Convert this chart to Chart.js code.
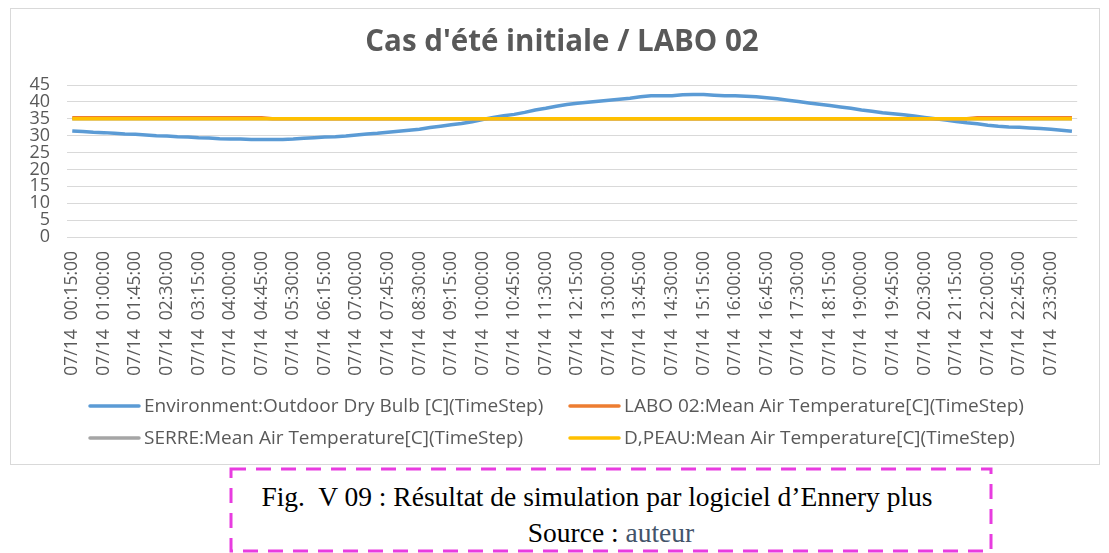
<!DOCTYPE html>
<html>
<head>
<meta charset="utf-8">
<script src="https://cdn.jsdelivr.net/npm/chart.js@4/dist/chart.umd.min.js"></script>
<style>
  html, body { margin: 0; padding: 0; background: #ffffff; }
  body { width: 1109px; height: 553px; position: relative; overflow: hidden; }
  #box {
    position: absolute; left: 10px; top: 8px; width: 1090px; height: 457px;
    border: 1px solid #d9d9d9; box-sizing: border-box; background: #fff;
  }
  #box canvas { position: absolute; left: 0; top: 0; }
  #frame { position: absolute; left: 229px; top: 467px; }
  #caption {
    position: absolute; left: 231px; top: 470px; width: 760px;
    font-family: "Liberation Serif", "Times New Roman", serif; font-size: 27.5px;
    color: #000; text-align: center; line-height: 36px; padding-top: 9px;
  }
  #caption .fig { position: relative; left: -14px; }
  #caption .src { color: #44546a; }
</style>
</head>
<body>
<div id="box"><canvas id="chart" width="1088" height="455"></canvas></div>
<svg id="frame" width="766" height="86">
  <rect x="2" y="2" width="760" height="82" fill="none" stroke="#e83ce0"
        stroke-width="3" stroke-dasharray="15 10"/>
</svg>
<div id="caption">
  <div class="fig">Fig.&nbsp; V 09 : Résultat de simulation par logiciel d’Ennery plus</div>
  <div>Source : <span class="src">auteur</span></div>
</div>
<script>
// Time steps of 15 minutes for 14 July: 00:15 ... 24:00
const timeSteps = [];
for (let m = 15; m <= 24 * 60; m += 15) {
  const h = String(Math.floor(m / 60)).padStart(2, '0');
  const mm = String(m % 60).padStart(2, '0');
  timeSteps.push('07/14  ' + h + ':' + mm + ':00');
}

const yTicks = [0, 5, 10, 15, 20, 25, 30, 35, 40, 45];

const chartTitle = "Cas d'été initiale / LABO 02";

const seriesNames = [
  'Environment:Outdoor Dry Bulb [C](TimeStep)',
  'LABO 02:Mean Air Temperature[C](TimeStep)',
  'SERRE:Mean Air Temperature[C](TimeStep)',
  'D,PEAU:Mean Air Temperature[C](TimeStep)'
];

const outdoorDryBulb = [
  31.4, 31.2, 31.0, 30.9, 30.7, 30.5, 30.4, 30.2, 30.0, 29.9, 29.7, 29.6,
  29.4, 29.3, 29.1, 29.0, 29.0, 28.9, 28.9, 28.9, 28.9, 29.0, 29.2, 29.4,
  29.6, 29.7, 29.9, 30.2, 30.5, 30.7, 31.0, 31.3, 31.6, 31.9, 32.4, 32.8,
  33.2, 33.6, 34.1, 34.8, 35.4, 35.9, 36.3, 36.9, 37.6, 38.1, 38.7, 39.2,
  39.6, 39.9, 40.2, 40.5, 40.8, 41.1, 41.5, 41.8, 41.8, 41.8, 42.1, 42.2,
  42.2, 42.0, 41.8, 41.8, 41.7, 41.5, 41.2, 40.9, 40.5, 40.1, 39.7, 39.3,
  38.9, 38.5, 38.1, 37.6, 37.2, 36.8, 36.5, 36.2, 35.8, 35.4, 35.0, 34.6,
  34.2, 33.8, 33.5, 33.1, 32.8, 32.6, 32.5, 32.3, 32.1, 31.9, 31.6, 31.3
];

const labo02 = [
  35.3, 35.3, 35.3, 35.3, 35.3, 35.3, 35.3, 35.3, 35.3, 35.3, 35.3, 35.3,
  35.3, 35.3, 35.3, 35.3, 35.3, 35.3, 35.3, 35.0, 35.0, 35.0, 35.0, 35.0,
  35.0, 35.0, 35.0, 35.0, 35.0, 35.0, 35.0, 35.0, 35.0, 35.0, 35.0, 35.0,
  35.0, 35.0, 35.0, 35.0, 35.0, 35.0, 35.0, 35.0, 35.0, 35.0, 35.0, 35.0,
  35.0, 35.0, 35.0, 35.0, 35.0, 35.0, 35.0, 35.0, 35.0, 35.0, 35.0, 35.0,
  35.0, 35.0, 35.0, 35.0, 35.0, 35.0, 35.0, 35.0, 35.0, 35.0, 35.0, 35.0,
  35.0, 35.0, 35.0, 35.0, 35.0, 35.0, 35.0, 35.0, 35.0, 35.0, 35.0, 35.0,
  35.0, 35.0, 35.3, 35.3, 35.3, 35.3, 35.3, 35.3, 35.3, 35.3, 35.3, 35.3
];

const serre = [
  35.0, 35.0, 35.0, 35.0, 35.0, 35.0, 35.0, 35.0, 35.0, 35.0, 35.0, 35.0,
  35.0, 35.0, 35.0, 35.0, 35.0, 35.0, 35.0, 35.0, 35.0, 35.0, 35.0, 35.0,
  35.0, 35.0, 35.0, 35.0, 35.0, 35.0, 35.0, 35.0, 35.0, 35.0, 35.0, 35.0,
  35.0, 35.0, 35.0, 35.0, 35.0, 35.0, 35.0, 35.0, 35.0, 35.0, 35.0, 35.0,
  35.0, 35.0, 35.0, 35.0, 35.0, 35.0, 35.0, 35.0, 35.0, 35.0, 35.0, 35.0,
  35.0, 35.0, 35.0, 35.0, 35.0, 35.0, 35.0, 35.0, 35.0, 35.0, 35.0, 35.0,
  35.0, 35.0, 35.0, 35.0, 35.0, 35.0, 35.0, 35.0, 35.0, 35.0, 35.0, 35.0,
  35.0, 35.0, 35.0, 35.0, 35.0, 35.0, 35.0, 35.0, 35.0, 35.0, 35.0, 35.0
];

const dPeau = [
  35.0, 35.0, 35.0, 35.0, 35.0, 35.0, 35.0, 35.0, 35.0, 35.0, 35.0, 35.0,
  35.0, 35.0, 35.0, 35.0, 35.0, 35.0, 35.0, 35.0, 35.0, 35.0, 35.0, 35.0,
  35.0, 35.0, 35.0, 35.0, 35.0, 35.0, 35.0, 35.0, 35.0, 35.0, 35.0, 35.0,
  35.0, 35.0, 35.0, 35.0, 35.0, 35.0, 35.0, 35.0, 35.0, 35.0, 35.0, 35.0,
  35.0, 35.0, 35.0, 35.0, 35.0, 35.0, 35.0, 35.0, 35.0, 35.0, 35.0, 35.0,
  35.0, 35.0, 35.0, 35.0, 35.0, 35.0, 35.0, 35.0, 35.0, 35.0, 35.0, 35.0,
  35.0, 35.0, 35.0, 35.0, 35.0, 35.0, 35.0, 35.0, 35.0, 35.0, 35.0, 35.0,
  35.0, 35.0, 35.0, 35.0, 35.0, 35.0, 35.0, 35.0, 35.0, 35.0, 35.0, 35.0
];

const seriesColors = ['#5b9bd5', '#ed7d31', '#a5a5a5', '#ffc000'];
const seriesValues = [outdoorDryBulb, labo02, serre, dPeau];

const TEXT = '#595959';
const FONT = '"Open Sans", sans-serif';

// Title and two-column legend, laid out like the office chart frame
const chartFrame = {
  id: 'chartFrame',
  afterDraw(chart) {
    const ctx = chart.ctx;
    ctx.save();

    ctx.font = 'bold 29.5px ' + FONT;
    ctx.fillStyle = TEXT;
    ctx.textAlign = 'center';
    ctx.textBaseline = 'middle';
    ctx.fillText(chartTitle, 551, 34);

    const colX = [79, 559];
    const rowY = [397, 429];
    ctx.font = '19px ' + FONT;
    ctx.textAlign = 'left';
    chart.data.datasets.forEach((ds, i) => {
      const x = colX[i % 2];
      const y = rowY[Math.floor(i / 2)];
      ctx.strokeStyle = ds.borderColor;
      ctx.lineWidth = 3.5;
      ctx.lineCap = 'round';
      ctx.beginPath();
      ctx.moveTo(x, y);
      ctx.lineTo(x + 49, y);
      ctx.stroke();
      ctx.fillText(ds.label, x + 54, y + 1);
    });
    ctx.restore();
  }
};

new Chart(document.getElementById('chart'), {
  type: 'line',
  data: {
    labels: timeSteps,
    datasets: seriesNames.map((name, i) => ({
      label: name,
      data: seriesValues[i],
      borderColor: seriesColors[i],
      backgroundColor: seriesColors[i],
      borderWidth: 3.5,
      pointRadius: 0,
      tension: 0,
      fill: false,
      order: 4 - i
    }))
  },
  options: {
    responsive: false,
    animation: false,
    layout: { padding: { left: 0, right: 12, top: 76, bottom: 77 } },
    plugins: {
      legend: { display: false },
      tooltip: { enabled: false },
      title: { display: false }
    },
    scales: {
      x: {
        offset: true,
        grid: { display: false },
        border: { display: false },
        ticks: {
          autoSkip: false,
          minRotation: 90,
          maxRotation: 90,
          color: TEXT,
          padding: 6,
          font: { family: FONT, size: 17.5 },
          callback: (v, i) => (i % 3 === 0 ? timeSteps[i] : '')
        },
        afterFit(scale) { scale.height = 150; }
      },
      y: {
        min: yTicks[0],
        max: yTicks[yTicks.length - 1],
        afterBuildTicks(scale) { scale.ticks = yTicks.map(v => ({ value: v })); },
        grid: { color: '#d9d9d9', lineWidth: 1, drawTicks: false },
        border: { display: false },
        ticks: {
          autoSkip: false,
          stepSize: 5,
          color: TEXT,
          padding: 17,
          font: { family: FONT, size: 18 }
        },
        afterFit(scale) { scale.width = 56; }
      }
    }
  },
  plugins: [chartFrame]
});
</script>
</body>
</html>
